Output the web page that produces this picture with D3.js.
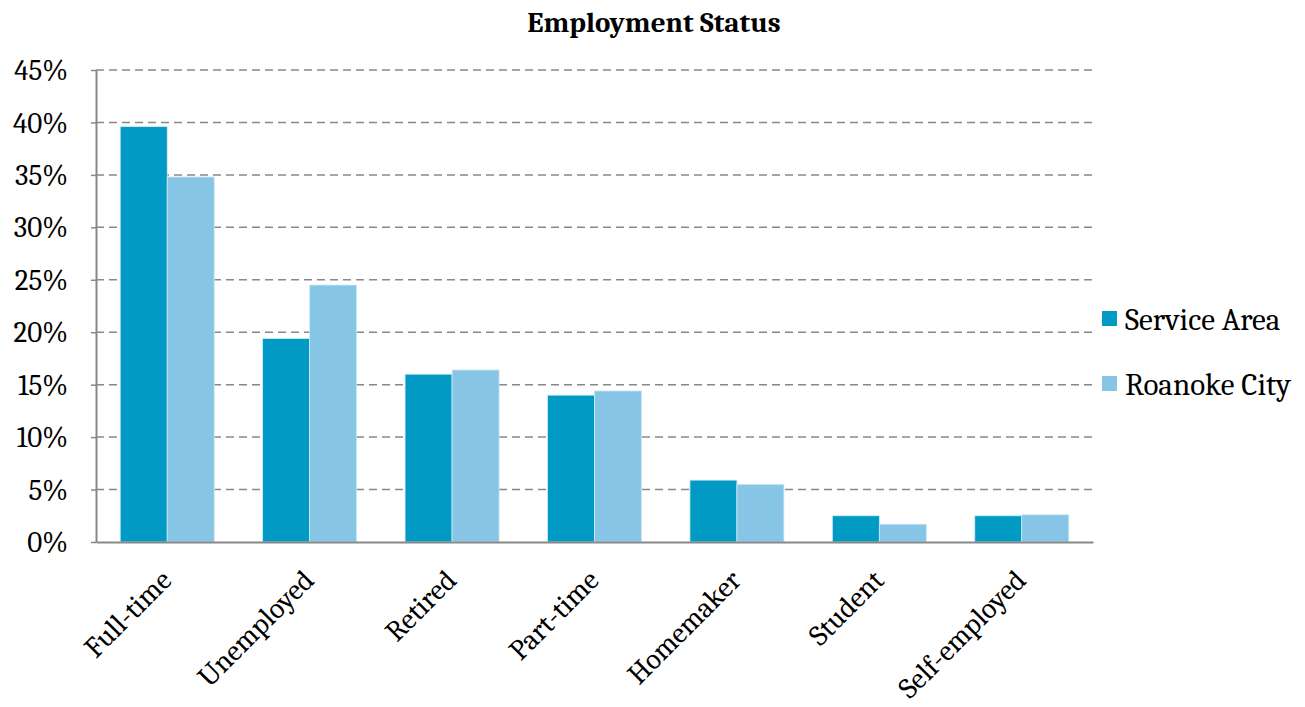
<!DOCTYPE html>
<html>
<head>
<meta charset="utf-8">
<script src="https://cdn.jsdelivr.net/npm/d3@7"></script>
<style>
  body { margin: 0; background: #fff; }
  svg text { font-family: Cambria, "Liberation Serif", "DejaVu Serif", serif; fill: #000; }
</style>
</head>
<body>
<svg id="chart"></svg>
<script>
const width = 1305;
const height = 707;
const margin = {top: 70, right: 212, bottom: 165, left: 96};

const categories = ['Full-time', 'Unemployed', 'Retired', 'Part-time', 'Homemaker', 'Student', 'Self-employed'];
const seriesNames = ['Service Area', 'Roanoke City'];
const serviceArea = [39.6, 19.4, 16.0, 14.0, 5.9, 2.5, 2.5];
const roanokeCity = [34.8, 24.5, 16.4, 14.4, 5.5, 1.7, 2.6];
const yTicks = [0, 5, 10, 15, 20, 25, 30, 35, 40, 45];
const colors = ['#009AC4', '#86C5E5'];

const svg = d3.select('#chart')
    .attr('width', width)
    .attr('height', height);

const x = d3.scaleBand().domain(categories)
    .range([margin.left, width - margin.right]).paddingInner(0).paddingOuter(0);
const xSeries = d3.scaleBand().domain(seriesNames)
    .range([0, x.bandwidth()]).paddingInner(0).paddingOuter(0.515);
const y = d3.scaleLinear().domain([0, 45]).range([height - margin.bottom, margin.top]);

// gridlines
svg.append('g')
    .selectAll('line')
    .data(yTicks.filter(d => d > 0))
    .enter()
    .append('line')
    .attr('x1', margin.left)
    .attr('x2', width - margin.right)
    .attr('y1', d => y(d))
    .attr('y2', d => y(d))
    .attr('stroke', '#888')
    .attr('stroke-width', 1.5)
    .attr('stroke-dasharray', '8,5');

// bars
const data = categories.map((c, i) => ({cat: c, values: [serviceArea[i], roanokeCity[i]]}));

svg.append('g')
    .selectAll('g')
    .data(data)
    .enter()
    .append('g')
    .attr('transform', d => `translate(${x(d.cat)},0)`)
    .selectAll('rect')
    .data(d => d.values.map((v, j) => ({name: seriesNames[j], value: v, j: j})))
    .enter()
    .append('rect')
    .attr('x', d => xSeries(d.name))
    .attr('width', xSeries.bandwidth())
    .attr('y', d => y(d.value))
    .attr('height', d => y(0) - y(d.value))
    .attr('fill', d => colors[d.j])
    .attr('stroke', '#cfeaf5')
    .attr('stroke-width', 0.8);

// axes
const yAxis = svg.append('g')
    .attr('transform', `translate(${margin.left},0)`)
    .call(d3.axisLeft(y).tickValues(yTicks).tickFormat(d => d + '%').tickSizeInner(5).tickSizeOuter(0).tickPadding(23));
yAxis.select('.domain').attr('stroke', '#888').attr('stroke-width', 2);
yAxis.selectAll('.tick line').attr('stroke', '#888').attr('stroke-width', 1.5);
yAxis.selectAll('text').style('font-size', '29px').attr('dy', '0.33em');

const xAxis = svg.append('g')
    .attr('transform', `translate(0,${y(0)})`)
    .call(d3.axisBottom(x).tickSize(0).tickPadding(0));
xAxis.select('.domain').attr('stroke', '#888').attr('stroke-width', 2);
xAxis.selectAll('text')
    .style('font-size', '29px')
    .attr('text-anchor', 'end')
    .attr('dy', 0)
    .attr('transform', 'translate(6,40) rotate(-45)');

// title
svg.append('text')
    .attr('x', 654)
    .attr('y', 32)
    .attr('text-anchor', 'middle')
    .style('font-size', '29px')
    .style('font-weight', 'bold')
    .text('Employment Status');

// legend
const legend = svg.append('g')
    .selectAll('g')
    .data(seriesNames)
    .enter()
    .append('g')
    .attr('transform', (d, i) => `translate(1102,${319 + i * 65})`);

legend.append('rect')
    .attr('x', 0)
    .attr('y', -8)
    .attr('width', 15)
    .attr('height', 15)
    .attr('fill', (d, i) => colors[i]);

legend.append('text')
    .attr('x', 23)
    .attr('y', 0)
    .attr('dy', '0.35em')
    .style('font-size', '31px')
    .text(d => d);
</script>
</body>
</html>
